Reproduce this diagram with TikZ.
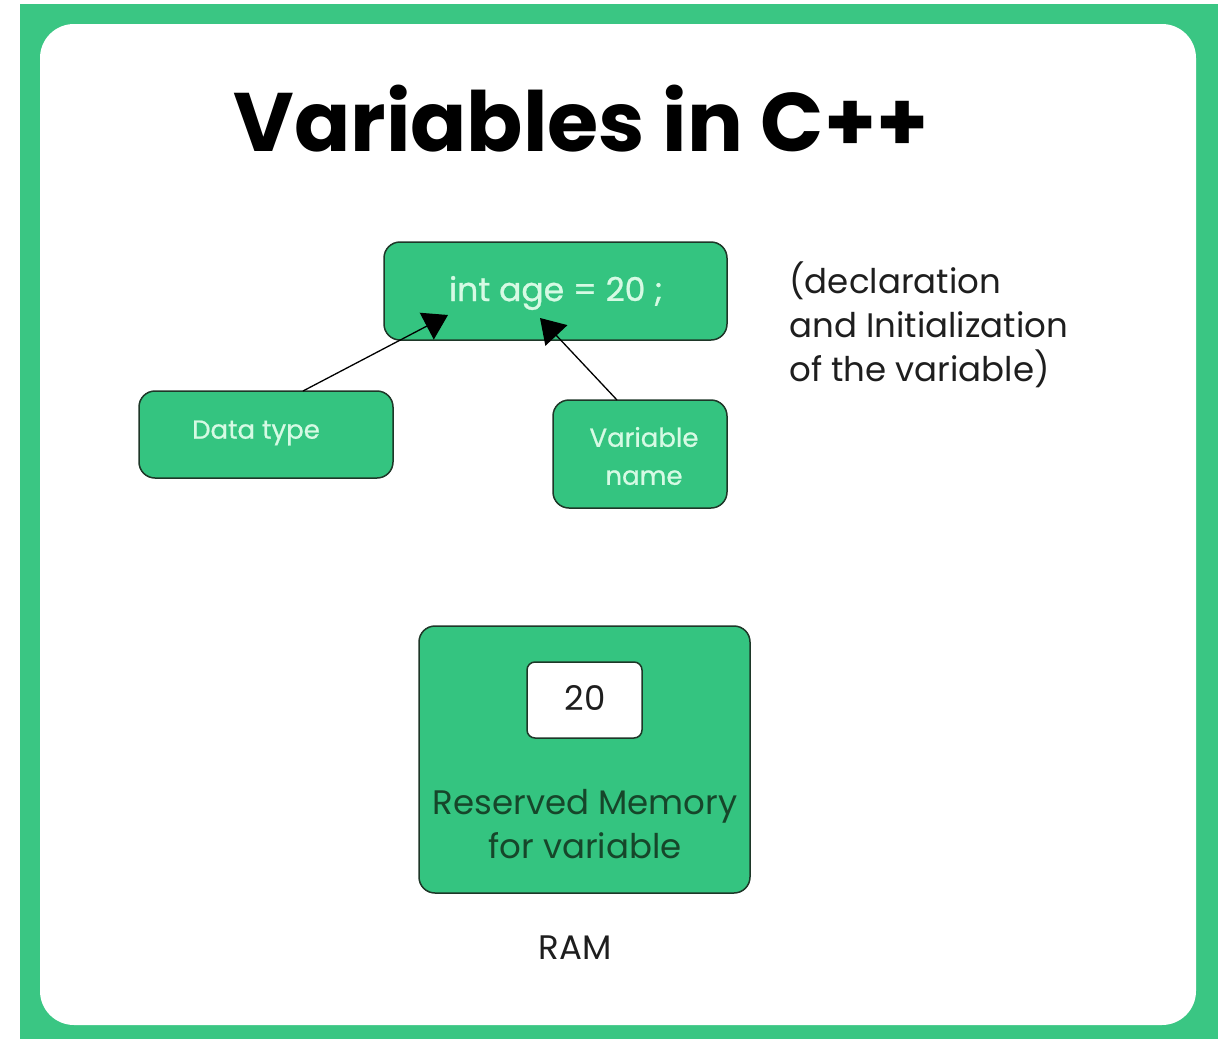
\documentclass[tikz,border=0pt]{standalone}
\usepackage{fontspec}
\setmainfont{Poppins}
\newfontfamily\medfont[FakeBold=0.8]{Poppins}
\usetikzlibrary{arrows.meta}
\definecolor{framegreen}{RGB}{58,198,131}
\definecolor{boxgreen}{RGB}{52,196,128}
\definecolor{boxline}{RGB}{30,55,40}
\definecolor{mint}{RGB}{214,250,228}
\definecolor{darkgreen}{RGB}{22,70,42}
\definecolor{txt}{RGB}{30,30,30}
\tikzset{
  gbox/.style={draw=boxline, fill=boxgreen, line width=1.5pt, rounded corners=16pt},
  btext/.style={text=mint, font=\medfont\fontsize{26}{38}\selectfont, align=center},
  conn/.style={draw=black, line width=1.3pt, -{Triangle[length=24pt,width=30pt]}}
}
\begin{document}
\begin{tikzpicture}[x=1pt,y=-1pt]
\useasboundingbox (0,0) rectangle (1227,1039);
\fill[white] (0,0) rectangle (1227,1039);
\fill[framegreen] (20,4) rectangle (1218,1039);
\fill[white, rounded corners=34pt] (40,24) rectangle (1196,1025);
% title
\node[font=\fontsize{83}{100}\selectfont\bfseries, text=black] (title) at (581,119) {Variables in C++};
% declaration box
\draw[gbox] (384,242) rectangle (727,340);
\node[text=mint, font=\medfont\fontsize{33}{40}\selectfont] (decl) at (556,293) {int age = 20 ;};
% data type
\draw[gbox] (139,391) rectangle (393,478);
\node[btext] (dtype) at (256,433) {Data type};
% variable name
\draw[gbox] (553,400) rectangle (727,508);
\node[btext] (vname) at (644,456) {Variable\\name};
% arrows
\coordinate (dtop) at (303,391);
\coordinate (dtip) at (448,315);
\coordinate (vtop) at (617,400);
\coordinate (vtip) at (540,318);
\draw[conn] (dtop) -- (dtip);
\draw[conn] (vtop) -- (vtip);
% side note
\node[anchor=north west, text=txt, align=left, font=\fontsize{34}{44}\selectfont] (note) at (786,258) {(declaration\\and Initialization\\of the variable)};
% RAM box
\draw[gbox] (419,626) rectangle (750,893);
\draw[draw=boxline, fill=white, line width=1.5pt, rounded corners=8pt] (527,662) rectangle (642,738);
\node[text=txt, font=\fontsize{34}{40}\selectfont] (val) at (585,698) {20};
\node[text=darkgreen, align=center, font=\fontsize{34}{44}\selectfont] (res) at (585,824) {Reserved Memory\\for variable};
\node[text=txt, font=\fontsize{34}{40}\selectfont] (ram) at (575,948) {RAM};
\end{tikzpicture}
\end{document}
